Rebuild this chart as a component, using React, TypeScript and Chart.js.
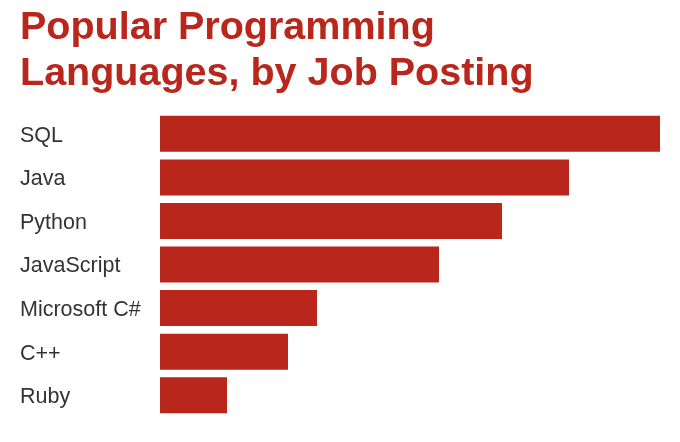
import React, { useEffect, useRef } from "react";
import { Chart, registerables } from "chart.js";

Chart.register(...registerables);

const languages = ["SQL", "Java", "Python", "JavaScript", "Microsoft C#", "C++", "Ruby"];
const postings = [500, 409, 342, 279, 157, 128, 67];
const titleLines = ["Popular Programming", "Languages, by Job Posting"];

const RED = "#b9261c";

export default function App() {
  const ref = useRef<HTMLCanvasElement | null>(null);

  useEffect(() => {
    if (!ref.current) return;
    const chart = new Chart(ref.current, {
      type: "bar",
      data: {
        labels: languages,
        datasets: [
          {
            data: postings,
            backgroundColor: RED,
            borderWidth: 0,
            categoryPercentage: 1,
            barPercentage: 0.826,
          },
        ],
      },
      options: {
        indexAxis: "y",
        animation: false,
        responsive: false,
        maintainAspectRatio: false,
        layout: { padding: { left: 20, right: 20, top: 0, bottom: 25 } },
        plugins: {
          legend: { display: false },
          tooltip: { enabled: false },
          title: {
            display: true,
            text: titleLines,
            align: "start",
            color: RED,
            font: { family: "'Liberation Sans', Arial, sans-serif", size: 39.5, weight: "bold", lineHeight: 1.165 },
            padding: { top: 5, bottom: 15 },
          },
        },
        scales: {
          x: { display: false, min: 0, max: 500 },
          y: {
            grid: { display: false },
            border: { display: false },
            afterFit: (scale: any) => {
              scale.width = 140;
            },
            ticks: {
              crossAlign: "far",
              color: "#333333",
              padding: 0,
              labelOffset: 2,
              font: { family: "'Liberation Sans', Arial, sans-serif", size: 21.5 },
            },
          },
        },
      },
    });
    return () => chart.destroy();
  }, []);

  return (
    <div style={{ position: "fixed", left: 0, top: 0, width: 680, height: 442, background: "#fff" }}>
      <canvas ref={ref} width={680} height={442} style={{ display: "block", width: 680, height: 442 }} />
    </div>
  );
}
